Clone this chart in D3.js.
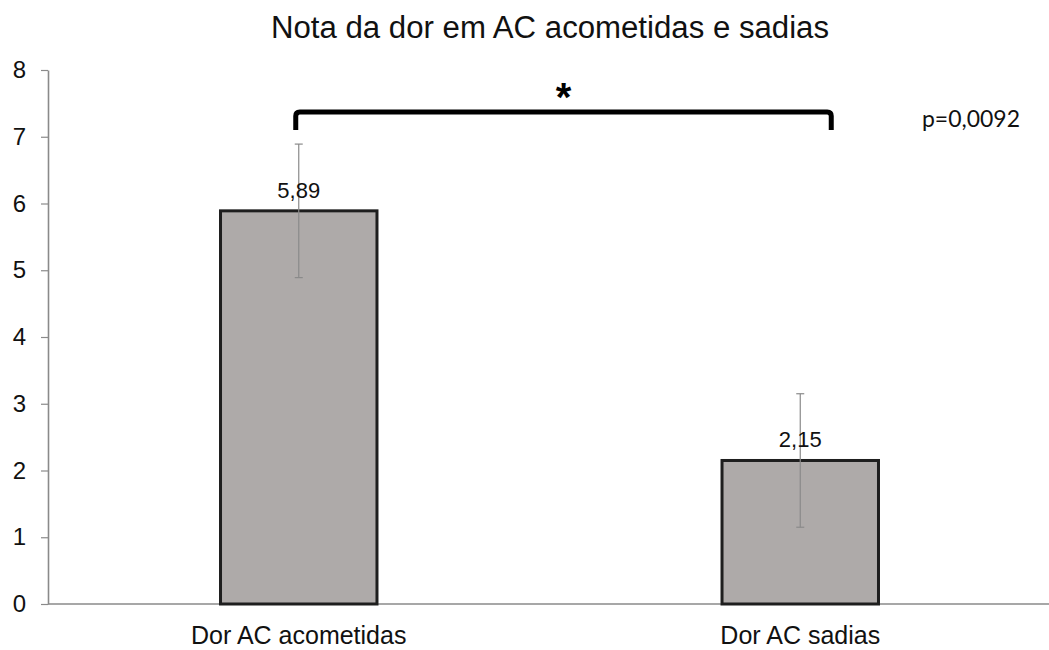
<!DOCTYPE html>
<html>
<head>
<meta charset="utf-8">
<script src="https://cdn.jsdelivr.net/npm/d3@7"></script>
<style>
  body { margin:0; background:#fff; }
  text { font-family: "Liberation Sans", Arial, sans-serif; }
</style>
</head>
<body>
<div class="chart"></div>
<script>
var categories = ["Dor AC acometidas", "Dor AC sadias"];
var values = [5.89, 2.15];
var errors = [1.0, 1.0];
var labels = ["5,89", "2,15"];
var yTicks = [0, 1, 2, 3, 4, 5, 6, 7, 8];

var W = 1049, H = 650;
var svg = d3.select(".chart").append("svg")
  .attr("width", W)
  .attr("height", H);

var x = d3.scaleBand()
  .domain(categories)
  .range([50, 1049])
  .paddingInner(0.688)
  .paddingOuter(0.34);

var y = d3.scaleLinear()
  .domain([0, 8])
  .range([604, 70]);

// title
svg.append("text")
  .attr("x", 550)
  .attr("y", 38)
  .attr("text-anchor", "middle")
  .attr("font-size", "31px")
  .attr("textLength", 558)
  .attr("lengthAdjust", "spacingAndGlyphs")
  .attr("fill", "#111")
  .text("Nota da dor em AC acometidas e sadias");

// y axis
var yAxis = svg.append("g")
  .attr("transform", "translate(48,0)")
  .call(d3.axisLeft(y).tickValues(yTicks).tickSize(7).tickPadding(15).tickSizeOuter(0));
yAxis.select(".domain").attr("stroke", "#8a8a8a").attr("stroke-width", 1.6);
yAxis.selectAll(".tick line").attr("stroke", "#8a8a8a").attr("stroke-width", 1.2);
yAxis.selectAll(".tick text")
  .attr("font-size", "24px")
  .attr("fill", "#111")
  .style("font-family", "Liberation Sans, Arial, sans-serif");

// x axis line
var xAxis = svg.append("g")
  .attr("transform", "translate(0," + y(0) + ")")
  .call(d3.axisBottom(x).tickSize(0).tickPadding(22));
xAxis.select(".domain").attr("d", "M48,0H1049").attr("stroke", "#8a8a8a").attr("stroke-width", 1.6);
xAxis.selectAll(".tick text")
  .attr("font-size", "25px")
  .attr("fill", "#111")
  .style("font-family", "Liberation Sans, Arial, sans-serif");

// bars
var data = categories.map(function(c, i){ return {cat:c, v:values[i], e:errors[i], lab:labels[i]}; });

svg.selectAll(".bar")
  .data(data)
  .enter()
  .append("rect")
  .attr("class", "bar")
  .attr("x", function(d){ return x(d.cat); })
  .attr("y", function(d){ return y(d.v); })
  .attr("width", x.bandwidth())
  .attr("height", function(d){ return y(0) - y(d.v); })
  .attr("fill", "#aeaaa9")
  .attr("stroke", "#1e1e1e")
  .attr("stroke-width", 3);

// error bars
var eb = svg.selectAll(".err")
  .data(data)
  .enter()
  .append("g")
  .attr("class", "err")
  .attr("stroke", "#8a8a8a")
  .attr("stroke-width", 1.2);

eb.append("line")
  .attr("x1", function(d){ return x(d.cat) + x.bandwidth()/2; })
  .attr("x2", function(d){ return x(d.cat) + x.bandwidth()/2; })
  .attr("y1", function(d){ return y(d.v + d.e); })
  .attr("y2", function(d){ return y(d.v - d.e); });
eb.append("line")
  .attr("x1", function(d){ return x(d.cat) + x.bandwidth()/2 - 4; })
  .attr("x2", function(d){ return x(d.cat) + x.bandwidth()/2 + 4; })
  .attr("y1", function(d){ return y(d.v + d.e); })
  .attr("y2", function(d){ return y(d.v + d.e); });
eb.append("line")
  .attr("x1", function(d){ return x(d.cat) + x.bandwidth()/2 - 4; })
  .attr("x2", function(d){ return x(d.cat) + x.bandwidth()/2 + 4; })
  .attr("y1", function(d){ return y(d.v - d.e); })
  .attr("y2", function(d){ return y(d.v - d.e); });

// value labels
svg.selectAll(".vlab")
  .data(data)
  .enter()
  .append("text")
  .attr("class", "vlab")
  .attr("x", function(d){ return x(d.cat) + x.bandwidth()/2; })
  .attr("y", function(d){ return y(d.v) - 13; })
  .attr("text-anchor", "middle")
  .attr("font-size", "22px")
  .attr("fill", "#111")
  .text(function(d){ return d.lab; });

// significance bracket
var bx1 = x(categories[0]) + x.bandwidth()/2 - 3;
var bx2 = x(categories[1]) + x.bandwidth()/2 + 31;
var by = y(7.37), byEnd = y(7.1);
svg.append("path")
  .attr("d", "M" + bx1 + "," + byEnd + "V" + (by + 4) + "Q" + bx1 + "," + by + " " + (bx1 + 4) + "," + by +
             "H" + (bx2 - 4) + "Q" + bx2 + "," + by + " " + bx2 + "," + (by + 4) + "V" + byEnd)
  .attr("fill", "none")
  .attr("stroke", "#000")
  .attr("stroke-width", 5);

svg.append("text")
  .attr("x", (bx1 + bx2)/2)
  .attr("y", by - 1)
  .attr("text-anchor", "middle")
  .attr("font-size", "40px")
  .attr("font-weight", "bold")
  .attr("fill", "#000")
  .text("*");

svg.append("text")
  .attr("x", 922)
  .attr("y", 127)
  .attr("font-size", "24px")
  .attr("textLength", 98)
  .attr("lengthAdjust", "spacingAndGlyphs")
  .style("font-family", "Lato, 'Open Sans', sans-serif")
  .attr("fill", "#111")
  .text("p=0,0092");
</script>
</body>
</html>
